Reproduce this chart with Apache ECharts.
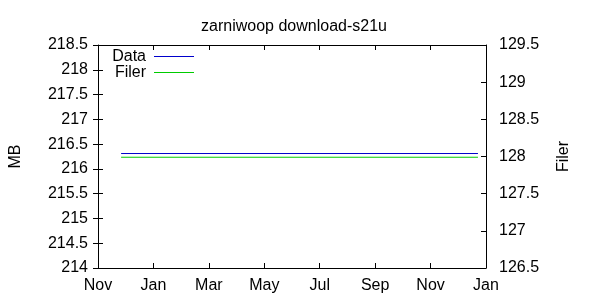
<!DOCTYPE html>
<html>
<head>
<meta charset="utf-8">
<script src="https://cdn.jsdelivr.net/npm/echarts@6/dist/echarts.min.js"></script>
<style>html,body{margin:0;padding:0;background:#fff}#c{width:600px;height:300px}</style>
</head>
<body>
<div id="c"></div>
<script>
// ---- data ----
var titleText = 'zarniwoop download-s21u';
var monthTickLabels = ['Nov', 'Jan', 'Mar', 'May', 'Jul', 'Sep', 'Nov', 'Jan'];
var axisStart = {year: 2020, month: 11};   // Nov 2020 = x 0
var dataDates = ['2020-11-26', '2021-12-23'];
var dataMB = [216.31, 216.31];
var filerDates = ['2020-11-26', '2021-12-23'];
var filerValues = [127.99, 127.99];
var leftRange = [214, 218.5];
var rightRange = [126.5, 129.5];

function monthIndex(s) {
  var p = s.split('-').map(Number);
  var y = p[0], m = p[1], d = p[2];
  var dim = new Date(y, m, 0).getDate();
  return (y - axisStart.year) * 12 + (m - axisStart.month) + (d - 1) / dim;
}
function pairs(dates, vals) {
  return dates.map(function (d, i) { return [monthIndex(d), vals[i]]; });
}

var FONT = 'Liberation Sans';
var FS = 16;
var chart = echarts.init(document.getElementById('c'), null, {renderer: 'canvas'});
var tickStyle = {show: true, inside: true, length: 5, lineStyle: {color: '#000', width: 1}};
var lineAx = {show: true, onZero: false, lineStyle: {color: '#000', width: 1}};

chart.setOption({
  animation: false,
  backgroundColor: '#fff',
  textStyle: {fontFamily: FONT},
  title: {
    text: titleText, left: 289, top: 14, textAlign: 'center',
    textStyle: {fontFamily: FONT, fontSize: FS, fontWeight: 'normal', color: '#000'}
  },
  legend: [
    {data: ['Data'], orient: 'vertical', right: 406, top: 48.5, align: 'right',
     icon: 'rect', itemWidth: 40, itemHeight: 1, padding: 0,
     textStyle: {fontFamily: FONT, fontSize: FS, color: '#000', lineHeight: 16, padding: [0, 3, 0, 0]}},
    {data: ['Filer'], orient: 'vertical', right: 406, top: 64.5, align: 'right',
     icon: 'rect', itemWidth: 40, itemHeight: 1, padding: 0,
     textStyle: {fontFamily: FONT, fontSize: FS, color: '#000', lineHeight: 16, padding: [0, 3, 0, 0]}}
  ],
  grid: {left: 92, right: 114, top: 45, bottom: 32, containLabel: false},
  xAxis: [
    {type: 'value', min: 0, max: 14, interval: 2, position: 'bottom',
     axisLine: lineAx, axisTick: tickStyle, splitLine: {show: false},
     axisLabel: {margin: 10, fontFamily: FONT, fontSize: FS, color: '#000',
       formatter: function (v) { return monthTickLabels[Math.round(v / 2)]; }}},
    {type: 'value', min: 0, max: 14, interval: 2, position: 'top',
     axisLine: lineAx, axisTick: tickStyle, splitLine: {show: false}, axisLabel: {show: false}}
  ],
  yAxis: [
    {type: 'value', min: leftRange[0], max: leftRange[1], interval: 0.5, position: 'left',
     name: 'MB', nameLocation: 'middle', nameRotate: 90, nameGap: 74,
     nameTextStyle: {fontFamily: FONT, fontSize: FS, color: '#000'},
     axisLine: lineAx, axisTick: tickStyle, splitLine: {show: false},
     axisLabel: {margin: 10, fontFamily: FONT, fontSize: FS, color: '#000'}},
    {type: 'value', min: rightRange[0], max: rightRange[1], interval: 0.5, position: 'right',
     name: 'Filer', nameLocation: 'middle', nameRotate: 90, nameGap: 70,
     nameTextStyle: {fontFamily: FONT, fontSize: FS, color: '#000'},
     axisLine: lineAx, axisTick: tickStyle, splitLine: {show: false},
     axisLabel: {margin: 13, fontFamily: FONT, fontSize: FS, color: '#000'}},
    {type: 'value', min: leftRange[0], max: leftRange[1], interval: 0.5, position: 'right',
     axisLine: {show: false}, axisTick: tickStyle, splitLine: {show: false}, axisLabel: {show: false}}
  ],
  series: [
    {name: 'Data', type: 'line', xAxisIndex: 0, yAxisIndex: 0, data: pairs(dataDates, dataMB),
     showSymbol: false, color: '#0000cc', lineStyle: {width: 1, color: '#0000cc'}},
    {name: 'Filer', type: 'line', xAxisIndex: 0, yAxisIndex: 1, data: pairs(filerDates, filerValues),
     showSymbol: false, color: '#00cc00', lineStyle: {width: 1, color: '#00cc00'}}
  ]
});
</script>
</body>
</html>
